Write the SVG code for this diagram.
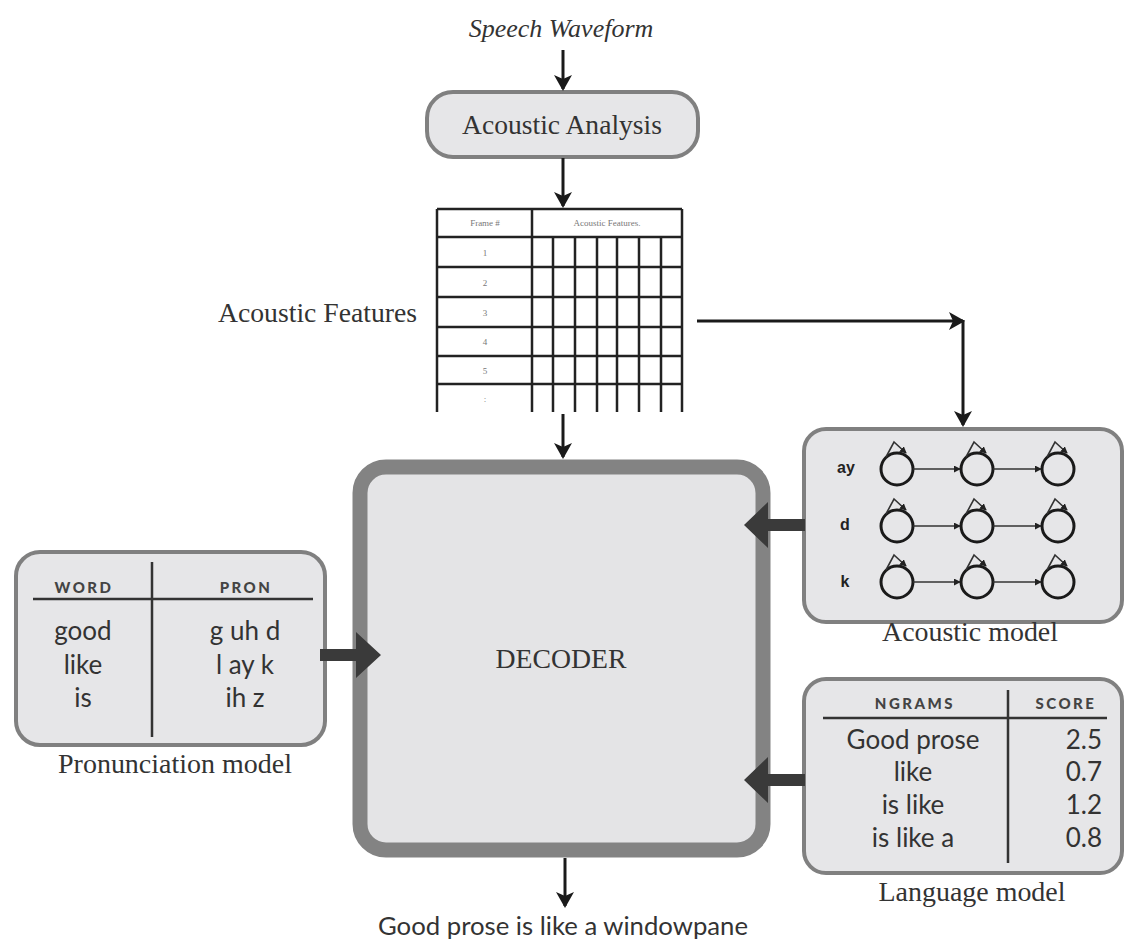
<svg xmlns="http://www.w3.org/2000/svg" width="1126" height="942" viewBox="0 0 1126 942">
  <defs>
    <style>
      .serif { font-family: "Liberation Serif", "Times New Roman", serif; fill: #333; }
      .gill { font-family: Lato, "Open Sans", "DejaVu Sans", sans-serif; fill: #333; }
      .head { font-family: Lato, "Open Sans", sans-serif; font-weight: 900; font-size: 15px; letter-spacing: 2.5px; fill: #444; }
      .panel { fill: #e6e6e8; stroke: #808080; stroke-width: 4; }
      .rule { stroke: #333; stroke-width: 2.5; fill: none; }
      .grid { stroke: #222; stroke-width: 2.5; fill: none; }
      .tiny { font-family: "Liberation Serif", serif; font-size: 9px; fill: #777; text-anchor: middle; }
      .flow { stroke: #1a1a1a; stroke-width: 3; fill: none; }
      .thick { fill: #3a3a3a; }
      .state { fill: none; stroke: #1a1a1a; stroke-width: 3; }
      .loop { fill: none; stroke: #333; stroke-width: 1.6; }
      .trans { stroke: #333; stroke-width: 1.6; fill: none; }
      .phone { font-family: "Liberation Sans", Arial, sans-serif; font-weight: 700; font-size: 16px; fill: #222; text-anchor: middle; }
    </style>
    <marker id="arrow" viewBox="0 0 16 18" refX="14" refY="9" markerWidth="16" markerHeight="18" markerUnits="userSpaceOnUse" orient="auto">
      <path d="M0,0 L16,9 L0,18 L4,9 Z" fill="#1a1a1a"/>
    </marker>
    <marker id="tip" viewBox="0 0 8 8" refX="7" refY="4" markerWidth="7" markerHeight="7" markerUnits="userSpaceOnUse" orient="auto">
      <path d="M0,0 L8,4 L0,8 Z" fill="#222"/>
    </marker>
  </defs>

  <rect width="1126" height="942" fill="#ffffff"/>

  <!-- input label -->
  <g id="speech-waveform">
    <text class="serif" x="561" y="37" font-size="26" font-style="italic" text-anchor="middle">Speech Waveform</text>
  </g>

  <!-- front end -->
  <g id="acoustic-analysis">
    <rect class="panel" x="427" y="92" width="271" height="65" rx="26" stroke-width="3.5"/>
    <text class="serif" x="562" y="134" font-size="27" text-anchor="middle" textLength="200" lengthAdjust="spacingAndGlyphs">Acoustic Analysis</text>
  </g>

  <!-- feature vectors, one row per frame -->
  <g id="feature-table">
    <text class="serif" x="417" y="322" font-size="27" text-anchor="end" textLength="199" lengthAdjust="spacingAndGlyphs">Acoustic Features</text>
    <path class="grid" d="M437,209 H682 M437,237 H682 M437,267 H682 M437,297 H682 M437,327 H682 M437,356 H682 M437,384 H682"/>
    <path class="grid" d="M437,209 V412 M532,209 V412 M682,209 V412 M553,237 V412 M575,237 V412 M597,237 V412 M617,237 V412 M639,237 V412 M661,237 V412"/>
    <text class="tiny" x="485" y="226">Frame #</text>
    <text class="tiny" x="607" y="226">Acoustic Features.</text>
    <text class="tiny" x="485" y="256">1</text>
    <text class="tiny" x="485" y="286">2</text>
    <text class="tiny" x="485" y="316">3</text>
    <text class="tiny" x="485" y="345">4</text>
    <text class="tiny" x="485" y="374">5</text>
    <text class="tiny" x="485" y="402">:</text>
  </g>

  <!-- search -->
  <g id="decoder">
    <rect x="360" y="467" width="403" height="383" rx="26" fill="#e4e4e6" stroke="#838383" stroke-width="15"/>
    <text class="serif" x="561" y="668" font-size="27" text-anchor="middle" textLength="131" lengthAdjust="spacingAndGlyphs">DECODER</text>
  </g>

  <!-- lexicon -->
  <g id="pronunciation-model">
    <rect class="panel" x="16" y="552" width="309" height="193" rx="24"/>
    <path class="rule" d="M33,599 H313 M152,562 V737"/>
    <text class="head" x="84" y="593" text-anchor="middle">WORD</text>
    <text class="head" x="246" y="593" text-anchor="middle">PRON</text>
    <text class="gill" x="83" y="640" font-size="26" text-anchor="middle">good</text>
    <text class="gill" x="83" y="674" font-size="26" text-anchor="middle">like</text>
    <text class="gill" x="83" y="707" font-size="26" text-anchor="middle">is</text>
    <text class="gill" x="245" y="640" font-size="26" text-anchor="middle">g uh d</text>
    <text class="gill" x="245" y="674" font-size="26" text-anchor="middle">l ay k</text>
    <text class="gill" x="245" y="707" font-size="26" text-anchor="middle">ih z</text>
    <text class="serif" x="175" y="773" font-size="27" text-anchor="middle" textLength="234" lengthAdjust="spacingAndGlyphs">Pronunciation model</text>
  </g>

  <!-- phone HMMs -->
  <g id="acoustic-model">
    <rect class="panel" x="804" y="429" width="318" height="193" rx="22"/>
    <text class="phone" x="846" y="473">ay</text>
    <text class="phone" x="845" y="530">d</text>
    <text class="phone" x="845" y="587">k</text>
    <g>
      <circle class="state" cx="897" cy="469" r="16"/>
      <circle class="state" cx="977" cy="469" r="16"/>
      <circle class="state" cx="1058" cy="469" r="16"/>
      <circle class="state" cx="897" cy="526" r="16"/>
      <circle class="state" cx="977" cy="526" r="16"/>
      <circle class="state" cx="1058" cy="526" r="16"/>
      <circle class="state" cx="897" cy="582" r="16"/>
      <circle class="state" cx="977" cy="582" r="16"/>
      <circle class="state" cx="1058" cy="582" r="16"/>
    </g>
    <g>
      <path class="loop" marker-end="url(#tip)" d="M886,457 L894,442 L906,453"/>
      <path class="loop" marker-end="url(#tip)" d="M966,457 L974,442 L986,453"/>
      <path class="loop" marker-end="url(#tip)" d="M1047,457 L1055,442 L1067,453"/>
      <path class="loop" marker-end="url(#tip)" d="M886,514 L894,499 L906,510"/>
      <path class="loop" marker-end="url(#tip)" d="M966,514 L974,499 L986,510"/>
      <path class="loop" marker-end="url(#tip)" d="M1047,514 L1055,499 L1067,510"/>
      <path class="loop" marker-end="url(#tip)" d="M886,570 L894,555 L906,566"/>
      <path class="loop" marker-end="url(#tip)" d="M966,570 L974,555 L986,566"/>
      <path class="loop" marker-end="url(#tip)" d="M1047,570 L1055,555 L1067,566"/>
    </g>
    <g>
      <line class="trans" marker-end="url(#tip)" x1="913" y1="469" x2="960" y2="469"/>
      <line class="trans" marker-end="url(#tip)" x1="993" y1="469" x2="1041" y2="469"/>
      <line class="trans" marker-end="url(#tip)" x1="913" y1="526" x2="960" y2="526"/>
      <line class="trans" marker-end="url(#tip)" x1="993" y1="526" x2="1041" y2="526"/>
      <line class="trans" marker-end="url(#tip)" x1="913" y1="582" x2="960" y2="582"/>
      <line class="trans" marker-end="url(#tip)" x1="993" y1="582" x2="1041" y2="582"/>
    </g>
    <text class="serif" x="970" y="641" font-size="27" text-anchor="middle" textLength="176" lengthAdjust="spacingAndGlyphs">Acoustic model</text>
  </g>

  <!-- N-gram table -->
  <g id="language-model">
    <rect class="panel" x="804" y="679" width="318" height="194" rx="22"/>
    <path class="rule" d="M823,718 H1107 M1008,690 V863"/>
    <text class="head" x="915" y="709" text-anchor="middle">NGRAMS</text>
    <text class="head" x="1066" y="709" text-anchor="middle">SCORE</text>
    <text class="gill" x="913" y="749" font-size="26" text-anchor="middle">Good prose</text>
    <text class="gill" x="913" y="781" font-size="26" text-anchor="middle">like</text>
    <text class="gill" x="913" y="814" font-size="26" text-anchor="middle">is like</text>
    <text class="gill" x="913" y="847" font-size="26" text-anchor="middle">is like a</text>
    <text class="gill" x="1102" y="749" font-size="26" text-anchor="end">2.5</text>
    <text class="gill" x="1102" y="781" font-size="26" text-anchor="end">0.7</text>
    <text class="gill" x="1102" y="814" font-size="26" text-anchor="end">1.2</text>
    <text class="gill" x="1102" y="847" font-size="26" text-anchor="end">0.8</text>
    <text class="serif" x="972" y="901" font-size="27" text-anchor="middle" textLength="187" lengthAdjust="spacingAndGlyphs">Language model</text>
  </g>

  <!-- recognised word string -->
  <g id="output-text">
    <text class="gill" x="563" y="935" font-size="25" text-anchor="middle" textLength="370" lengthAdjust="spacingAndGlyphs">Good prose is like a windowpane</text>
  </g>

  <!-- connectors -->
  <g id="connectors">
    <line class="flow" x1="563" y1="50" x2="563" y2="89" marker-end="url(#arrow)"/>
    <line class="flow" x1="563" y1="158" x2="563" y2="206" marker-end="url(#arrow)"/>
    <line class="flow" x1="563" y1="414" x2="563" y2="457" marker-end="url(#arrow)"/>
    <line class="flow" x1="697" y1="321" x2="963" y2="321" marker-end="url(#arrow)"/>
    <line class="flow" x1="963" y1="320" x2="963" y2="425" marker-end="url(#arrow)"/>
    <line class="flow" x1="565" y1="858" x2="565" y2="906" marker-end="url(#arrow)"/>
    <!-- knowledge sources feeding the decoder -->
    <path class="thick" d="M320,649 H356 V632 L381,655 L356,678 V661 H320 Z"/>
    <path class="thick" d="M805,519 H768 V502 L744,525 L768,548 V531 H805 Z"/>
    <path class="thick" d="M805,774 H768 V757 L744,780 L768,803 V786 H805 Z"/>
  </g>
</svg>
